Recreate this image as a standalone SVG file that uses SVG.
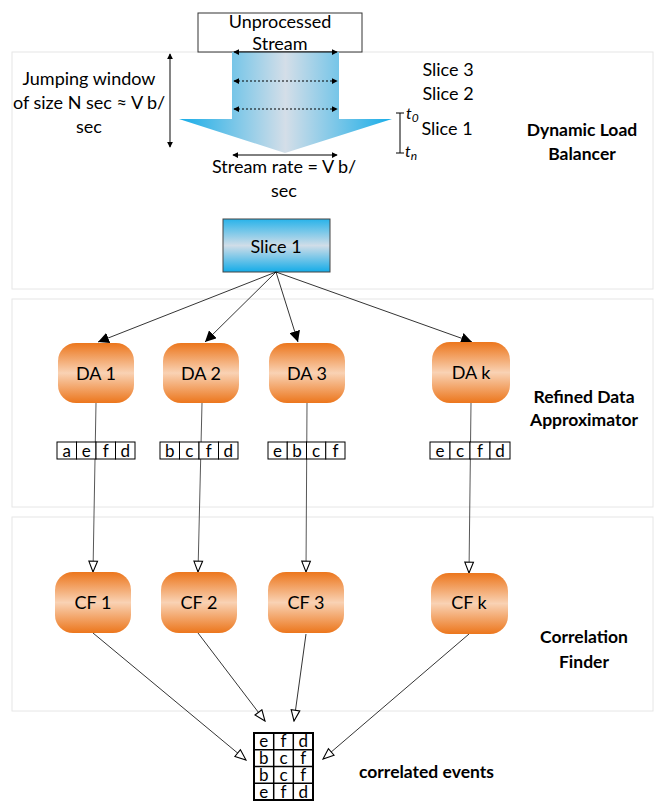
<svg xmlns="http://www.w3.org/2000/svg" width="659" height="802" viewBox="0 0 659 802">
<defs>
<linearGradient id="gArrow" x1="0" y1="0" x2="1" y2="0">
<stop offset="0" stop-color="#18ADE8"/><stop offset="0.5" stop-color="#D4DEE8"/><stop offset="1" stop-color="#18ADE8"/>
</linearGradient>
<linearGradient id="gSlice" x1="0" y1="0" x2="0" y2="1">
<stop offset="0" stop-color="#28B3EA"/><stop offset="0.5" stop-color="#D0DDE8"/><stop offset="1" stop-color="#14ACE8"/>
</linearGradient>
<linearGradient id="gOr" x1="0" y1="0" x2="0" y2="1">
<stop offset="0" stop-color="#EC761C"/><stop offset="0.5" stop-color="#F9D2B4"/><stop offset="1" stop-color="#EC761C"/>
</linearGradient>
<marker id="mFill" viewBox="0 0 10 10" refX="10" refY="5" markerWidth="11" markerHeight="11" markerUnits="userSpaceOnUse" orient="auto">
<path d="M0,0 L10,5 L0,10 z" fill="#000"/>
</marker>
<marker id="mOpen" viewBox="0 0 12 10" refX="11" refY="5" markerWidth="13" markerHeight="11" markerUnits="userSpaceOnUse" orient="auto">
<path d="M1,1 L11,5 L1,9 z" fill="#fff" stroke="#000" stroke-width="1"/>
</marker>
<marker id="mDbl" viewBox="0 0 8 8" refX="7" refY="4" markerWidth="6" markerHeight="6" markerUnits="userSpaceOnUse" orient="auto-start-reverse">
<path d="M0,0 L8,4 L0,8 z" fill="#000"/>
</marker>
</defs>
<style>
.panel{fill:#fff;stroke:#e6e6e6;stroke-width:1}
.t{font-family:Lato,"Liberation Sans",sans-serif;font-size:18px;fill:#000;text-anchor:middle}
.b{font-family:Lato,"Liberation Sans",sans-serif;font-size:17.5px;font-weight:bold;fill:#000;text-anchor:middle}
.i{font-family:Lato,"Liberation Sans",sans-serif;font-size:16px;font-style:italic;fill:#000}
.cell{fill:#fff;stroke:#000;stroke-width:1}
.ct{font-family:Lato,"Liberation Sans",sans-serif;font-size:17px;fill:#000;text-anchor:middle}
.gt{font-family:Lato,"Liberation Sans",sans-serif;font-size:17px;fill:#000;text-anchor:middle}
.node{fill:url(#gOr)}
.edge{fill:none;stroke:#000;stroke-width:0.8}
.vedge{fill:none;stroke:#444;stroke-width:0.9}
</style>

<g id="panels">
<rect class="panel" x="12" y="52" width="641" height="237"/>
<rect class="panel" x="12" y="299" width="641" height="208"/>
<rect class="panel" x="12" y="517" width="641" height="194"/>
</g>

<g id="stream">
<rect x="198" y="13" width="164" height="39" fill="#fff" stroke="#333" stroke-width="1"/>
<text class="t" x="280" y="28" font-size="19">Unprocessed</text>
<text class="t" x="280" y="50" font-size="19">Stream</text>
<path d="M232,52 L339,52 L339,119 L392,119 L285,153 L179,119 L232,119 Z" fill="url(#gArrow)"/>
<line x1="234" y1="52" x2="337" y2="52" stroke="#000" stroke-width="1" marker-start="url(#mDbl)" marker-end="url(#mDbl)"/>
<line x1="234" y1="81" x2="337" y2="81" stroke="#000" stroke-width="1" stroke-dasharray="2,2" marker-start="url(#mDbl)" marker-end="url(#mDbl)"/>
<line x1="234" y1="109" x2="337" y2="109" stroke="#000" stroke-width="1" stroke-dasharray="2,2" marker-start="url(#mDbl)" marker-end="url(#mDbl)"/>
<line x1="233" y1="155" x2="337" y2="155" stroke="#000" stroke-width="1" marker-start="url(#mDbl)" marker-end="url(#mDbl)"/>
<text class="t" x="284" y="173" font-size="19">Stream rate = V b/</text>
<text class="t" x="284" y="197" font-size="19">sec</text>
<line x1="170" y1="54" x2="170" y2="147" stroke="#333" stroke-width="1.2" marker-start="url(#mDbl)" marker-end="url(#mDbl)"/>
<text class="t" x="89" y="85" font-size="19">Jumping window</text>
<text class="t" x="89" y="109" font-size="19">of size N sec ≈ V b/</text>
<text class="t" x="89" y="133" font-size="19">sec</text>
<line x1="400" y1="113" x2="400" y2="153" stroke="#000" stroke-width="1"/>
<line x1="396" y1="113" x2="404" y2="113" stroke="#000" stroke-width="1"/>
<line x1="396" y1="153" x2="404" y2="153" stroke="#000" stroke-width="1"/>
<text class="i" x="406" y="119">t<tspan font-size="12" dy="3">0</tspan></text>
<text class="i" x="405" y="157">t<tspan font-size="12" dy="3">n</tspan></text>
<text class="t" x="448" y="76">Slice 3</text>
<text class="t" x="448" y="100">Slice 2</text>
<text class="t" x="447" y="135">Slice 1</text>
<text class="b" x="582" y="136">Dynamic Load</text>
<text class="b" x="582" y="160">Balancer</text>
</g>

<g id="slice1">
<rect x="223" y="219" width="107" height="53" fill="url(#gSlice)" stroke="#444" stroke-width="1"/>
<text class="t" x="276" y="253">Slice 1</text>
</g>

<g id="connectors">
<line class="edge" x1="276" y1="272" x2="98" y2="342" marker-end="url(#mFill)"/>
<line class="edge" x1="276" y1="272" x2="205" y2="342" marker-end="url(#mFill)"/>
<line class="edge" x1="276" y1="272" x2="298" y2="342" marker-end="url(#mFill)"/>
<line class="edge" x1="276" y1="272" x2="472" y2="342" marker-end="url(#mFill)"/>
<line class="vedge" x1="96" y1="403" x2="93" y2="572" marker-end="url(#mOpen)"/>
<line class="vedge" x1="202" y1="403" x2="198" y2="572" marker-end="url(#mOpen)"/>
<line class="vedge" x1="307" y1="403" x2="306" y2="572" marker-end="url(#mOpen)"/>
<line class="vedge" x1="471" y1="403" x2="469" y2="573" marker-end="url(#mOpen)"/>
<line class="edge" x1="93" y1="633" x2="246" y2="760" marker-end="url(#mOpen)"/>
<line class="edge" x1="198" y1="633" x2="265" y2="721" marker-end="url(#mOpen)"/>
<line class="edge" x1="306" y1="634" x2="294" y2="721" marker-end="url(#mOpen)"/>
<line class="edge" x1="469" y1="634" x2="323" y2="759" marker-end="url(#mOpen)"/>
</g>

<g id="da1">
<rect class="node" x="58" y="343" width="76" height="60" rx="18"/>
<text class="t" x="96" y="380">DA 1</text>
</g>
<g id="da2">
<rect class="node" x="163" y="343" width="76" height="60" rx="18"/>
<text class="t" x="201" y="380">DA 2</text>
</g>
<g id="da3">
<rect class="node" x="269" y="343" width="76" height="60" rx="18"/>
<text class="t" x="307" y="380">DA 3</text>
</g>
<g id="dak">
<rect class="node" x="432" y="342" width="78" height="61" rx="18"/>
<text class="t" x="471" y="379">DA k</text>
</g>

<g id="list1">
<rect class="cell" x="57" y="442" width="19.5" height="17"/><rect class="cell" x="76.5" y="442" width="19.5" height="17"/><rect class="cell" x="96" y="442" width="19.5" height="17"/><rect class="cell" x="115.5" y="442" width="19.5" height="17"/>
<text class="ct" x="66.75" y="457">a</text><text class="ct" x="86.25" y="457">e</text><text class="ct" x="105.75" y="457">f</text><text class="ct" x="125.25" y="457">d</text>
</g>
<g id="list2">
<rect class="cell" x="160" y="442" width="19.5" height="17"/><rect class="cell" x="179.5" y="442" width="19.5" height="17"/><rect class="cell" x="199" y="442" width="19.5" height="17"/><rect class="cell" x="218.5" y="442" width="19.5" height="17"/>
<text class="ct" x="169.75" y="457">b</text><text class="ct" x="189.25" y="457">c</text><text class="ct" x="208.75" y="457">f</text><text class="ct" x="228.25" y="457">d</text>
</g>
<g id="list3">
<rect class="cell" x="268" y="442" width="19.25" height="17"/><rect class="cell" x="287.25" y="442" width="19.25" height="17"/><rect class="cell" x="306.5" y="442" width="19.25" height="17"/><rect class="cell" x="325.75" y="442" width="19.25" height="17"/>
<text class="ct" x="277.6" y="457">e</text><text class="ct" x="296.9" y="457">b</text><text class="ct" x="316.1" y="457">c</text><text class="ct" x="335.4" y="457">f</text>
</g>
<g id="listk">
<rect class="cell" x="430" y="442" width="20" height="17"/><rect class="cell" x="450" y="442" width="20" height="17"/><rect class="cell" x="470" y="442" width="20" height="17"/><rect class="cell" x="490" y="442" width="20" height="17"/>
<text class="ct" x="440" y="457">e</text><text class="ct" x="460" y="457">c</text><text class="ct" x="480" y="457">f</text><text class="ct" x="500" y="457">d</text>
</g>

<g id="rda-label">
<text class="b" x="584" y="403">Refined Data</text>
<text class="b" x="584" y="426">Approximator</text>
</g>

<g id="cf1">
<rect class="node" x="55" y="572" width="76" height="61" rx="18"/>
<text class="t" x="93" y="609">CF 1</text>
</g>
<g id="cf2">
<rect class="node" x="161" y="572" width="76" height="61" rx="18"/>
<text class="t" x="199" y="609">CF 2</text>
</g>
<g id="cf3">
<rect class="node" x="268" y="572" width="76" height="61" rx="18"/>
<text class="t" x="306" y="609">CF 3</text>
</g>
<g id="cfk">
<rect class="node" x="431" y="573" width="77" height="61" rx="18"/>
<text class="t" x="469" y="609">CF k</text>
</g>

<g id="cf-label">
<text class="b" x="584" y="643">Correlation</text>
<text class="b" x="584" y="668">Finder</text>
</g>

<g id="grid">
<rect x="254" y="733" width="59" height="67" fill="#fff" stroke="#000" stroke-width="2"/>
<line x1="273.7" y1="733" x2="273.7" y2="800" stroke="#000" stroke-width="1.5"/>
<line x1="293.3" y1="733" x2="293.3" y2="800" stroke="#000" stroke-width="1.5"/>
<line x1="254" y1="749.75" x2="313" y2="749.75" stroke="#000" stroke-width="1.5"/>
<line x1="254" y1="766.5" x2="313" y2="766.5" stroke="#000" stroke-width="1.5"/>
<line x1="254" y1="783.25" x2="313" y2="783.25" stroke="#000" stroke-width="1.5"/>
<text class="gt" x="263.8" y="747">e</text><text class="gt" x="283.5" y="747">f</text><text class="gt" x="303.2" y="747">d</text>
<text class="gt" x="263.8" y="764">b</text><text class="gt" x="283.5" y="764">c</text><text class="gt" x="303.2" y="764">f</text>
<text class="gt" x="263.8" y="781">b</text><text class="gt" x="283.5" y="781">c</text><text class="gt" x="303.2" y="781">f</text>
<text class="gt" x="263.8" y="798">e</text><text class="gt" x="283.5" y="798">f</text><text class="gt" x="303.2" y="798">d</text>
</g>

<g id="ce-label">
<text class="b" x="359" y="778" font-size="19" style="text-anchor:start">correlated events</text>
</g>
</svg>
